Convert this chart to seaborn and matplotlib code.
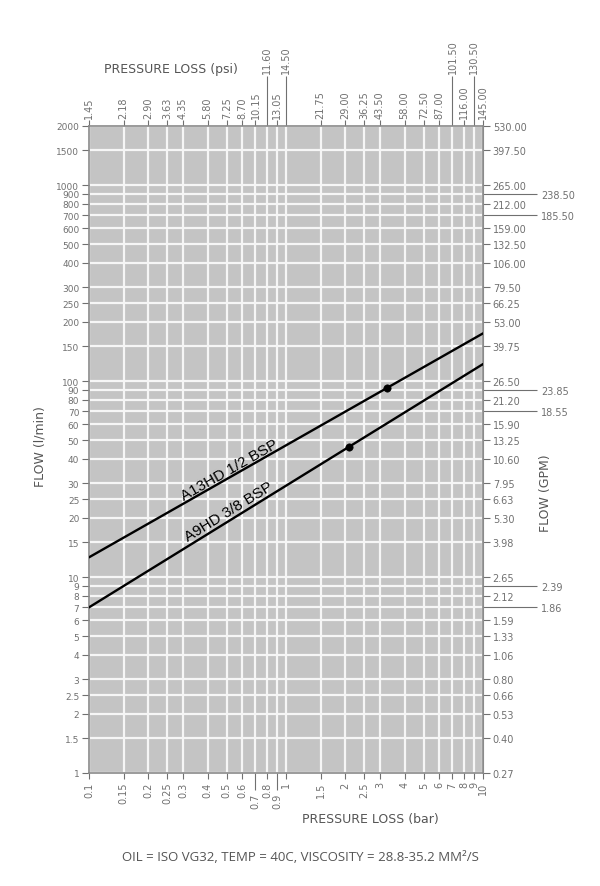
import numpy as np
import pandas as pd
import matplotlib
matplotlib.use("Agg")
import matplotlib.pyplot as plt
import seaborn as sns
from matplotlib.ticker import NullLocator

# pressure axis: bar ticks (bottom) and psi labels (top)
bar_ticks = [0.1, 0.15, 0.2, 0.25, 0.3, 0.4, 0.5, 0.6, 0.7, 0.8, 0.9, 1,
             1.5, 2, 2.5, 3, 4, 5, 6, 7, 8, 9, 10]
bar_labels = ['0.1', '0.15', '0.2', '0.25', '0.3', '0.4', '0.5', '0.6', '0.7', '0.8', '0.9', '1',
              '1.5', '2', '2.5', '3', '4', '5', '6', '7', '8', '9', '10']
psi_labels = ['1.45', '2.18', '2.90', '3.63', '4.35', '5.80', '7.25', '8.70', '10.15', '11.60',
              '13.05', '14.50', '21.75', '29.00', '36.25', '43.50', '58.00', '72.50', '87.00',
              '101.50', '116.00', '130.50', '145.00']
bar_long = [0.7, 0.9]
psi_long = [0.8, 1, 7, 9]

# flow axis: l/min ticks (left) and GPM labels (right)
flow_ticks = [1, 1.5, 2, 2.5, 3, 4, 5, 6, 7, 8, 9, 10, 15, 20, 25, 30, 40, 50, 60, 70, 80, 90,
              100, 150, 200, 250, 300, 400, 500, 600, 700, 800, 900, 1000, 1500, 2000]
gpm_labels = ['0.27', '0.40', '0.53', '0.66', '0.80', '1.06', '1.33', '1.59', '1.86', '2.12',
              '2.39', '2.65', '3.98', '5.30', '6.63', '7.95', '10.60', '13.25', '15.90', '18.55',
              '21.20', '23.85', '26.50', '39.75', '53.00', '66.25', '79.50', '106.00', '132.50',
              '159.00', '185.50', '212.00', '238.50', '265.00', '397.50', '530.00']
gpm_long = [7, 9, 70, 90, 700, 900]

# valve curves
series = ['A13HD 1/2 BSP', 'A13HD 1/2 BSP', 'A9HD 3/8 BSP', 'A9HD 3/8 BSP']
pressure = [0.1, 10, 0.1, 10]
flow = [12.6, 175, 7.0, 122]
dot_series = ['A13HD 1/2 BSP', 'A9HD 3/8 BSP']
dot_pressure = [3.25, 2.08]
dot_flow = [92, 46]

df = pd.DataFrame({'series': series, 'pressure': pressure, 'flow': flow})
dots = pd.DataFrame({'series': dot_series, 'pressure': dot_pressure, 'flow': dot_flow})

sns.set_style("darkgrid", {'axes.facecolor': '#c4c4c4', 'grid.color': '#f6f6f6',
                           'axes.edgecolor': '#8a8a8a'})
plt.rcParams['font.family'] = ['DejaVu Sans']

tick_col = '#707070'
fig = plt.figure(figsize=(6, 8.87), dpi=100)
ax = fig.add_axes([89 / 600, 113 / 887, 394 / 600, 647 / 887])
ax.set_xscale('log')
ax.set_yscale('log')

sns.lineplot(data=df, x='pressure', y='flow', hue='series', palette=['black', 'black'],
             lw=1.7, legend=False, ax=ax, zorder=3)
sns.scatterplot(data=dots, x='pressure', y='flow', color='black', s=28, edgecolor='black',
                legend=False, ax=ax, zorder=4)

ax.set_xlim(0.1, 10)
ax.set_ylim(1, 2000)
ax.set_xlabel('')
ax.set_ylabel('')

# bottom axis
short_bar = [t for t in bar_ticks if t not in bar_long]
ax.set_xticks(short_bar, [bar_labels[bar_ticks.index(t)] for t in short_bar])
ax.set_xticks(bar_long, [bar_labels[bar_ticks.index(t)] for t in bar_long], minor=True)
ax.tick_params(axis='x', which='major', length=4, pad=2, rotation=90, labelsize=7,
               colors=tick_col, bottom=True, width=0.8)
ax.tick_params(axis='x', which='minor', length=12, pad=2, rotation=90, labelsize=7,
               colors=tick_col, bottom=True, width=0.8)

# left axis
ax.set_yticks(flow_ticks, [f'{v:g}' for v in flow_ticks])
ax.yaxis.set_minor_locator(NullLocator())
ax.tick_params(axis='y', which='major', length=5, pad=2, labelsize=6.5, colors=tick_col,
               left=True, width=0.8)

ax.grid(which='both', color='#f6f6f6', lw=1.6)
for s in ax.spines.values():
    s.set_visible(True)
    s.set_color('#8a8a8a')
    s.set_linewidth(1.2)

# top axis (psi)
top = ax.secondary_xaxis('top')
short_psi = [t for t in bar_ticks if t not in psi_long]
top.set_xticks(short_psi, [psi_labels[bar_ticks.index(t)] for t in short_psi])
top.set_xticks(psi_long, [psi_labels[bar_ticks.index(t)] for t in psi_long], minor=True)
top.tick_params(which='major', length=4, pad=2, rotation=90, labelsize=7, colors=tick_col,
                width=0.8)
top.tick_params(which='minor', length=36, pad=2, rotation=90, labelsize=7, colors=tick_col,
                width=0.8)
top.spines['top'].set_color('#8a8a8a')

# right axis (GPM)
right = ax.secondary_yaxis('right')
short_gpm = [t for t in flow_ticks if t not in gpm_long]
right.set_yticks(short_gpm, [gpm_labels[flow_ticks.index(t)] for t in short_gpm])
right.set_yticks(gpm_long, [gpm_labels[flow_ticks.index(t)] for t in gpm_long], minor=True)
right.tick_params(which='major', length=5, pad=2, labelsize=7, colors=tick_col, width=0.8)
right.tick_params(which='minor', length=39, pad=3, labelsize=7, colors=tick_col, width=0.8)
right.spines['right'].set_color('#8a8a8a')

# curve labels along the lines
fig.canvas.draw()
for name, (lx, ly) in [('A13HD 1/2 BSP', (0.516, 35.2)), ('A9HD 3/8 BSP', (0.51, 21.7))]:
    d = df[df['series'] == name]
    (x0, y0), (x1, y1) = ax.transData.transform(d[['pressure', 'flow']].values)
    ang = np.degrees(np.arctan2(y1 - y0, x1 - x0))
    ax.text(lx, ly, name, rotation=ang, rotation_mode='anchor', ha='center', va='center',
            fontsize=11, color='black', family=['Liberation Sans', 'DejaVu Sans'], zorder=5)

lab = dict(fontsize=9, color='#555555')
fig.text(171 / 600, 1 - 70 / 887, 'PRESSURE LOSS (psi)', ha='center', va='center', **lab)
fig.text(370 / 600, 1 - 820 / 887, 'PRESSURE LOSS (bar)', ha='center', va='center', **lab)
fig.text(40 / 600, 1 - 447 / 887, 'FLOW (l/min)', rotation=90, ha='center', va='center', **lab)
fig.text(545 / 600, 1 - 493 / 887, 'FLOW (GPM)', rotation=90, ha='center', va='center', **lab)

fig.text(0.5, 1 - 858 / 887, 'OIL = ISO VG32, TEMP = 40C, VISCOSITY = 28.8-35.2 MM²/S',
         ha='center', va='center', fontsize=9.5, color='#555555',
         family=['Open Sans', 'DejaVu Sans'])

fig.savefig('out.png', dpi=100, facecolor='white')
